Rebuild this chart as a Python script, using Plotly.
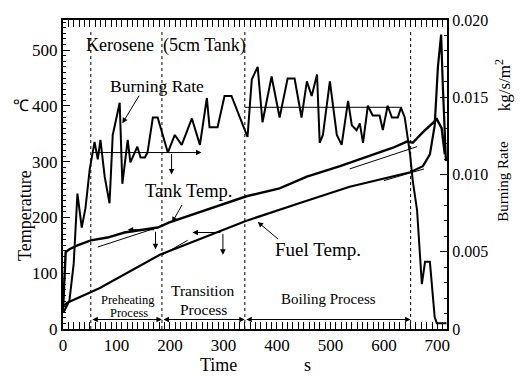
import plotly.graph_objects as go

# ---------------- data ----------------
time_br = [1, 12, 20, 27, 35, 42, 50, 59, 65, 70, 78, 87, 93, 106, 111, 121, 126, 139, 145,
           153, 158, 168, 177, 186, 196, 209, 222, 241, 256, 269, 274, 289, 302, 315, 345, 353,
           364, 373, 390, 405, 420, 433, 446, 456, 465, 475, 480, 486, 499, 512, 521, 533, 540,
           549, 555, 561, 570, 579, 592, 598, 607, 615, 626, 632, 639, 649, 654, 662, 671, 677,
           686, 695, 699, 717]
burning_rate = [0.00107, 0.00183, 0.00423, 0.00877, 0.00656, 0.00782, 0.01035, 0.01211, 0.01098,
                0.01224, 0.00984, 0.00814, 0.01256, 0.01464, 0.00940, 0.01224, 0.01079, 0.01180,
                0.01110, 0.01110, 0.01142, 0.01369, 0.01369, 0.01256, 0.01142, 0.01256, 0.01192,
                0.01363, 0.01192, 0.01495, 0.01306, 0.01306, 0.01508, 0.01508, 0.01243, 0.01615,
                0.01697, 0.01338, 0.01634, 0.01369, 0.01621, 0.01621, 0.01369, 0.01603, 0.01508,
                0.01647, 0.01205, 0.01256, 0.01603, 0.01256, 0.01192, 0.01476, 0.01319, 0.01287,
                0.01331, 0.01205, 0.01445, 0.01382, 0.01382, 0.01287, 0.01445, 0.01369, 0.01369,
                0.01432, 0.01369, 0.01129, 0.00959, 0.00770, 0.00290, 0.00435, 0.00435, 0.00076,
                0.00038, 0.00038]

time_tank = [0, 5, 12, 27, 52, 83, 115, 177, 199, 255, 343, 405, 456, 518, 579, 617, 643, 654,
             673, 692, 699, 708, 714]
tank_temp = [33, 138, 143, 150, 159, 164, 173, 182, 191, 209, 238, 252, 273, 292, 313, 325, 336,
             334, 353, 371, 376, 360, 313]

time_fuel = [0, 8, 68, 124, 181, 255, 343, 443, 536, 649, 673, 686, 695, 701, 707, 710, 716]
fuel_temp = [40, 47, 73, 103, 133, 161, 194, 226, 255, 281, 292, 313, 365, 470, 528, 441, 301]

phase_bounds = [52, 185, 340, 650]

br_mean_pre = 0.01142
br_mean_boil = 0.01435

tank_fit_pre_t, tank_fit_pre_T = [65, 180], [147, 183]
tank_fit_boil_t, tank_fit_boil_T = [536, 662], [287, 327]
fuel_fit_trans_t, fuel_fit_trans_T = [186, 233], [133, 159]
fuel_fit_boil_t, fuel_fit_boil_T = [600, 675], [266, 287]

x_ticks = [0, 100, 200, 300, 400, 500, 600, 700]
t_ticks = [0, 100, 200, 300, 400, 500]
br_ticks = [0, 0.005, 0.010, 0.015, 0.020]
br_ticklabels = ["0", "0.005", "0.010", "0.015", "0.020"]

# ---------------- figure ----------------
FONT = "Liberation Serif"
W, H = 521, 377
ML, MR, MT, MB = 63, 74, 12, 48
PW, PH = W - ML - MR, H - MT - MB


def px(x, y):
    return (x - ML) / PW, (H - MB - y) / PH


fig = go.Figure()
blk = "black"

fig.add_trace(go.Scatter(x=time_br, y=burning_rate, yaxis="y2", mode="lines",
                         line=dict(color=blk, width=2), hoverinfo="skip"))
fig.add_trace(go.Scatter(x=time_tank, y=tank_temp, mode="lines",
                         line=dict(color=blk, width=2.4), hoverinfo="skip"))
fig.add_trace(go.Scatter(x=time_fuel, y=fuel_temp, mode="lines",
                         line=dict(color=blk, width=2.2), hoverinfo="skip"))
for tt, vv in [(tank_fit_pre_t, tank_fit_pre_T), (tank_fit_boil_t, tank_fit_boil_T),
               (fuel_fit_trans_t, fuel_fit_trans_T), (fuel_fit_boil_t, fuel_fit_boil_T)]:
    fig.add_trace(go.Scatter(x=tt, y=vv, mode="lines", line=dict(color=blk, width=1),
                             hoverinfo="skip"))
# boiling mean burning rate line
fig.add_trace(go.Scatter(x=[phase_bounds[2], 634], y=[br_mean_boil, br_mean_boil], yaxis="y2",
                         mode="lines", line=dict(color=blk, width=1), hoverinfo="skip"))

shapes = []
for b in phase_bounds:
    shapes.append(dict(type="line", xref="x", yref="paper", x0=b, x1=b, y0=0, y1=0.965,
                       line=dict(color=blk, width=1, dash="3px,3px")))

ann = []


def arrow(x, y, ax, ay, yref="y", both=False, width=1):
    d = dict(x=x, y=y, ax=ax, ay=ay, xref="x", yref=yref, axref="x", ayref=yref,
             text="", showarrow=True, arrowhead=2, arrowsize=1.1, arrowwidth=width,
             arrowcolor=blk)
    if both:
        d.update(arrowside="end+start", startarrowhead=2, startarrowsize=1.1)
    ann.append(d)


# bottom phase arrows
for a, b in zip(phase_bounds[:-1], phase_bounds[1:]):
    arrow(b, 17, a, 17, both=True)

# burning rate markers
arrow(259, br_mean_pre, phase_bounds[0], br_mean_pre, yref="y2")
arrow(203, 0.0100, 203, br_mean_pre, yref="y2")
arrow(111, 0.01331, 144, 0.01520, yref="y2")
# tank temp markers
arrow(121, 178, 173, 178)
arrow(173, 143, 173, 177)
arrow(204, 191, 224, 225)
# fuel temp markers
arrow(242, 173, 297, 173)
arrow(299, 133, 299, 173)
arrow(364, 192, 405, 159)


def text(t, x, y, size, angle=0):
    fx, fy = px(x, y)
    ann.append(dict(text=t, x=fx, y=fy, xref="paper", yref="paper", showarrow=False,
                    xanchor="center", yanchor="middle", textangle=angle,
                    font=dict(family=FONT, size=size, color=blk)))


text("Kerosene  (5cm Tank)", 166, 38, 18)
text("Burning Rate", 157, 80, 17.5)
text("Tank Temp.", 189, 187, 18.5)
text("Fuel Temp.", 318, 247, 19)
text("Preheating", 128, 299, 12.5)
text("Process", 129, 313, 12.5)
text("Transition", 202, 290, 15.5)
text("Process", 203, 309, 15.5)
text("Boiling Process", 328, 298, 15)
text("Temperature", 25, 213, 18, -90)
text("℃", 21, 100, 16)
text("Time", 218, 366, 18)
text("s", 307, 366, 18)
text("Burning Rate", 503, 178, 15, -90)
text("kg/s/m<sup>2</sup>", 503, 79, 17, -90)

tickfont = dict(family=FONT, size=17, color=blk)
fig.update_layout(
    width=W, height=H, margin=dict(l=ML, r=MR, t=MT, b=MB),
    paper_bgcolor="white", plot_bgcolor="white", showlegend=False,
    shapes=shapes, annotations=ann,
    xaxis=dict(range=[0, 718], tickvals=x_ticks, ticks="inside", ticklen=7, tickwidth=1,
               tickcolor=blk, showline=True, linecolor=blk, linewidth=2, mirror="allticks",
               showgrid=False, zeroline=False, tickfont=tickfont,
               minor=dict(ticks="inside", dtick=10, ticklen=3, tickcolor=blk, showgrid=False)),
    yaxis=dict(range=[0, 554], tickvals=t_ticks, ticks="inside", ticklen=7, tickwidth=1,
               tickcolor=blk, showline=True, linecolor=blk, linewidth=2, showgrid=False,
               zeroline=False, tickfont=tickfont,
               minor=dict(ticks="inside", dtick=10, ticklen=3, tickcolor=blk, showgrid=False)),
    yaxis2=dict(range=[0, 0.020], overlaying="y", side="right", tickvals=br_ticks,
                ticktext=br_ticklabels, ticks="inside", ticklen=7, tickwidth=1, tickcolor=blk,
                showline=True, linecolor=blk, linewidth=2, showgrid=False, zeroline=False,
                tickfont=dict(family=FONT, size=16, color=blk),
                minor=dict(ticks="inside", dtick=0.001, ticklen=3, tickcolor=blk,
                           showgrid=False)),
)

fig.write_html("out.html", config={"displayModeBar": False},
               post_script="document.body.style.margin='0px';"
                           "document.body.style.overflow='hidden';")
